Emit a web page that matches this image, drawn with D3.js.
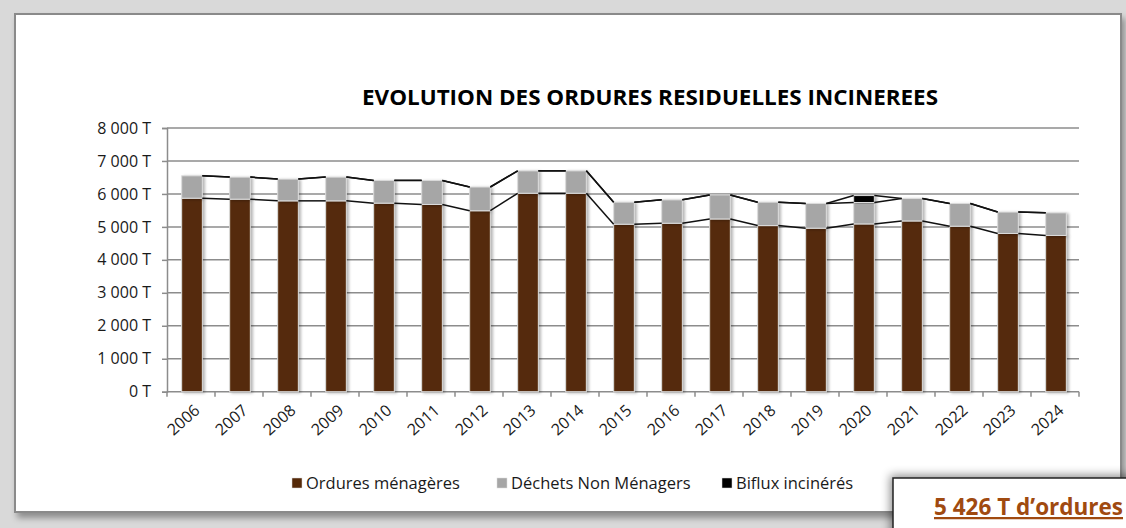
<!DOCTYPE html>
<html>
<head>
<meta charset="utf-8">
<script src="https://cdn.jsdelivr.net/npm/d3@7"></script>
<style>
  body { margin: 0; background: #d9d9d9; }
  svg { display: block; font-family: "Open Sans", sans-serif; }
</style>
</head>
<body>
<div id="chart"></div>
<script>
let w = 1126;
let h = 528;

// data (tonnes)
const years = ["2006","2007","2008","2009","2010","2011","2012","2013","2014","2015",
               "2016","2017","2018","2019","2020","2021","2022","2023","2024"];
const ordures = [5870, 5840, 5790, 5790, 5720, 5680, 5490, 6020, 6020, 5080,
                 5110, 5240, 5040, 4960, 5090, 5180, 5020, 4800, 4740];
const dechetsNM = [680, 670, 660, 720, 690, 730, 720, 680, 680, 670,
                   710, 730, 710, 750, 650, 680, 690, 650, 686];
const biflux = [0, 0, 0, 0, 0, 0, 0, 0, 0, 0,
                0, 0, 0, 0, 210, 0, 0, 0, 0];
const yTicks = [0, 1000, 2000, 3000, 4000, 5000, 6000, 7000, 8000];
const seriesNames = ["Ordures ménagères", "Déchets Non Ménagers", "Biflux incinérés"];
const seriesColors = ["#552908", "#a6a6a6", "#000000"];

const plotLeft = 167, plotRight = 1079, plotTop = 128, plotBottom = 391.7;

const svg = d3.select("#chart")
              .append("svg")
              .attr("width", w)
              .attr("height", h);

const defs = svg.append("defs");
defs.append("filter").attr("id", "frameShadow")
    .attr("x", "-5%").attr("y", "-5%").attr("width", "110%").attr("height", "120%")
    .append("feDropShadow")
    .attr("dx", 3).attr("dy", 5).attr("stdDeviation", 3)
    .attr("flood-color", "#000").attr("flood-opacity", 0.35);
defs.append("filter").attr("id", "barShadow")
    .attr("x", "-30%").attr("y", "-10%").attr("width", "180%").attr("height", "130%")
    .append("feDropShadow")
    .attr("dx", 2).attr("dy", 1).attr("stdDeviation", 1.5)
    .attr("flood-color", "#000").attr("flood-opacity", 0.3);
defs.append("filter").attr("id", "boxShadow")
    .attr("x", "-20%").attr("y", "-40%").attr("width", "140%").attr("height", "180%")
    .append("feDropShadow")
    .attr("dx", -2).attr("dy", -2).attr("stdDeviation", 5)
    .attr("flood-color", "#000").attr("flood-opacity", 0.45);

// chart frame
svg.append("rect")
   .attr("x", 15).attr("y", 14)
   .attr("width", 1106).attr("height", 498)
   .attr("fill", "white")
   .attr("stroke", "#8a8a8a")
   .attr("stroke-width", 2)
   .attr("filter", "url(#frameShadow)");

svg.append("text")
   .attr("x", 650).attr("y", 105)
   .attr("text-anchor", "middle")
   .attr("font-size", 21)
   .attr("font-weight", "bold")
   .attr("textLength", 576)
   .attr("lengthAdjust", "spacingAndGlyphs")
   .text("EVOLUTION DES ORDURES RESIDUELLES INCINEREES");

const xScale = d3.scaleBand()
                 .domain(years)
                 .range([plotLeft, plotRight]);

const yScale = d3.scaleLinear()
                 .domain([0, 8000])
                 .range([plotBottom, plotTop]);

// gridlines
svg.append("g")
   .selectAll("line")
   .data(yTicks.filter(d => d > 0))
   .enter()
   .append("line")
   .attr("x1", plotLeft).attr("x2", plotRight)
   .attr("y1", d => yScale(d)).attr("y2", d => yScale(d))
   .attr("stroke", "#8c8c8c")
   .attr("stroke-width", 1.5);

const yAxis = d3.axisLeft(yScale)
                .tickValues(yTicks)
                .tickSize(5)
                .tickPadding(11)
                .tickFormat(d => (d === 0 ? "0" : d3.format(",")(d).replace(",", " ")) + " T");

const gy = svg.append("g")
   .attr("transform", "translate(" + plotLeft + ",0)")
   .call(yAxis);
gy.select(".domain").attr("stroke", "#8c8c8c").attr("stroke-width", 1.5);
gy.selectAll(".tick line").attr("stroke", "#8c8c8c").attr("stroke-width", 1.5);
gy.selectAll(".tick text").attr("font-size", 16).attr("fill", "#1a1a1a")
  .attr("font-family", "Open Sans, sans-serif");

// x axis line and ticks between categories
const gx = svg.append("g");
gx.append("line")
  .attr("x1", plotLeft).attr("x2", plotRight)
  .attr("y1", plotBottom).attr("y2", plotBottom)
  .attr("stroke", "#8c8c8c").attr("stroke-width", 1.5);
gx.selectAll(".xt")
  .data(years.concat(["end"]))
  .enter()
  .append("line")
  .attr("class", "xt")
  .attr("x1", (d, i) => i < years.length ? xScale(d) : plotRight)
  .attr("x2", (d, i) => i < years.length ? xScale(d) : plotRight)
  .attr("y1", plotBottom).attr("y2", plotBottom + 5)
  .attr("stroke", "#8c8c8c").attr("stroke-width", 1.5);
gx.selectAll(".yl")
  .data(years)
  .enter()
  .append("text")
  .attr("transform", d => "translate(" + (xScale(d) + xScale.bandwidth() / 2 + 6) + "," + (plotBottom + 16) + ") rotate(-42)")
  .attr("text-anchor", "end")
  .attr("dy", "0.35em")
  .attr("font-size", 16)
  .attr("fill", "#1a1a1a")
  .text(d => d);

// stacked bars
const rows = years.map((y, i) => ({ year: y, a: ordures[i], b: dechetsNM[i], c: biflux[i] }));
const stack = d3.stack().keys(["a", "b", "c"])(rows);
const barW = xScale.bandwidth() * 0.43;
const bx = d => xScale(d.data.year) + (xScale.bandwidth() - barW) / 2 + 1;

svg.append("g")
   .selectAll("g")
   .data(stack)
   .enter()
   .append("g")
   .attr("fill", (d, i) => seriesColors[i])
   .attr("filter", "url(#barShadow)")
   .selectAll("rect")
   .data(d => d.filter(p => p[1] > p[0]))
   .enter()
   .append("rect")
   .attr("x", bx)
   .attr("y", d => yScale(d[1]))
   .attr("width", barW)
   .attr("height", d => yScale(d[0]) - yScale(d[1]))
   .attr("stroke", "#dcdcdc")
   .attr("stroke-width", 1);

// series lines joining the tops of each series
stack.forEach(s => {
  const segs = [];
  for (let i = 0; i < s.length - 1; i++) {
    segs.push([bx(s[i]) + barW, yScale(s[i][1]), bx(s[i + 1]), yScale(s[i + 1][1])]);
  }
  svg.append("g")
     .selectAll("line")
     .data(segs)
     .enter()
     .append("line")
     .attr("x1", d => d[0]).attr("y1", d => d[1])
     .attr("x2", d => d[2]).attr("y2", d => d[3])
     .attr("stroke", "#111")
     .attr("stroke-width", 1.5);
});

// legend
const legendX = [292, 497, 722];
const lg = svg.append("g");
lg.selectAll("rect")
  .data(seriesNames)
  .enter()
  .append("rect")
  .attr("x", (d, i) => legendX[i])
  .attr("y", 478)
  .attr("width", 10).attr("height", 10)
  .attr("fill", (d, i) => seriesColors[i])
  .attr("stroke", "#dcdcdc").attr("stroke-width", 0.5);
lg.selectAll("text")
  .data(seriesNames)
  .enter()
  .append("text")
  .attr("x", (d, i) => legendX[i] + 14)
  .attr("y", 483)
  .attr("dy", "0.35em")
  .attr("font-size", 16.5)
  .attr("fill", "#1a1a1a")
  .text(d => d);

// overlapping text box at bottom right
svg.append("rect")
   .attr("x", 893).attr("y", 478)
   .attr("width", 260).attr("height", 70)
   .attr("fill", "white")
   .attr("stroke", "#222")
   .attr("stroke-width", 1.5)
   .attr("filter", "url(#boxShadow)");
svg.append("text")
   .attr("x", 934).attr("y", 515)
   .attr("font-size", 22.5)
   .attr("font-weight", "bold")
   .attr("fill", "#a04a10")
   .attr("text-decoration", "underline")
   .text("5 426 T d’ordures");
</script>
</body>
</html>
